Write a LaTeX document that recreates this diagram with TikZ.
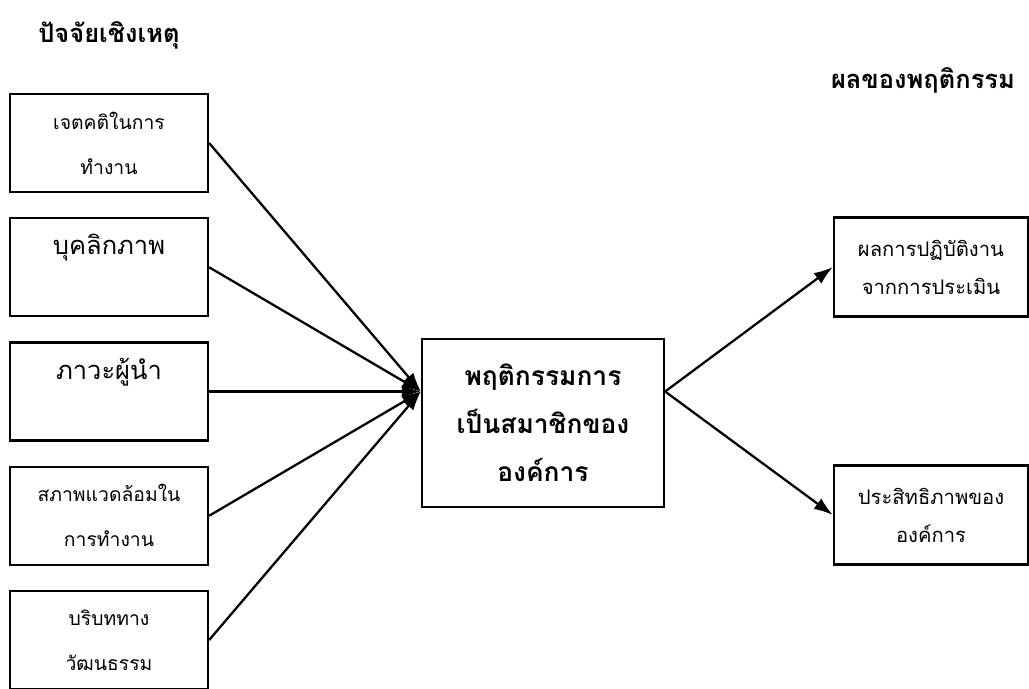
\documentclass[tikz,border=0pt]{standalone}
\usepackage{fontspec}
\newfontfamily\thaifont[Script=Thai]{Loma}
\usetikzlibrary{arrows.meta,positioning,calc}

\begin{document}
\begin{tikzpicture}[
    x=0.02cm, y=-0.02cm,
    causebox/.style={rectangle, draw=black, line width=1.3pt, align=center, minimum width=3.96cm, minimum height=1.96cm, inner sep=2pt, font=\thaifont\fontsize{11}{25.6}\selectfont},
    bigcause/.style={causebox, font=\thaifont\fontsize{14.5}{25.6}\selectfont},
    corebox/.style={rectangle, draw=black, line width=1.3pt, align=center, minimum width=4.84cm, minimum height=3.36cm, font=\thaifont\bfseries\fontsize{15}{27.3}\selectfont},
    resultbox/.style={rectangle, draw=black, line width=1.3pt, align=center, minimum width=3.88cm, minimum height=1.98cm, font=\thaifont\fontsize{11.5}{21.6}\selectfont},
    headtext/.style={font=\thaifont\bfseries\fontsize{14.5}{18}\selectfont},
    link/.style={line width=1.3pt, -{Latex[length=3.8mm,width=2.6mm]}},
    node distance=0.48cm
    ]
    \useasboundingbox (0,0) rectangle (1029,689);

    %Causes
    \node[causebox] (fac1) at (109,143)      {เจตคติในการ\\ทำงาน};
    \node[bigcause] (fac2) [below=of fac1]   {บุคลิกภาพ\\ \mbox{}};
    \node[bigcause] (fac3) [below=of fac2]   {ภาวะผู้นำ\\ \mbox{}};
    \node[causebox] (fac4) [below=of fac3]   {สภาพแวดล้อมใน\\การทำงาน};
    \node[causebox] (fac5) [below=of fac4]   {บริบททาง\\วัฒนธรรม};

    %Behaviour and results
    \node[corebox]   (core) at (543,423)     {พฤติกรรมการ\\เป็นสมาชิกของ\\องค์การ};
    \node[resultbox] (out1) at (931,267)     {ผลการปฏิบัติงาน\\จากการประเมิน};
    \node[resultbox] (out2) at (931,515)     {ประสิทธิภาพของ\\องค์การ};

    % Headings (outside nodes)
    \node[headtext] (causehead) at (109,35)  {ปัจจัยเชิงเหตุ};
    \node[headtext] (effecthead) at (923,80) {ผลของพฤติกรรม};

    \coordinate (hubin)  at (core.west |- fac3.east);
    \coordinate (hubout) at (core.east |- fac3.east);

    %Lines
    \draw[link] (fac1.east) -- (hubin);
    \draw[link] (fac2.east) -- (hubin);
    \draw[link] (fac3.east) -- (hubin);
    \draw[link] (fac4.east) -- (hubin);
    \draw[link] (fac5.east) -- (hubin);
    \draw[link] (hubout) -- (out1.west);
    \draw[link] (hubout) -- (out2.west);
\end{tikzpicture}
\end{document}
